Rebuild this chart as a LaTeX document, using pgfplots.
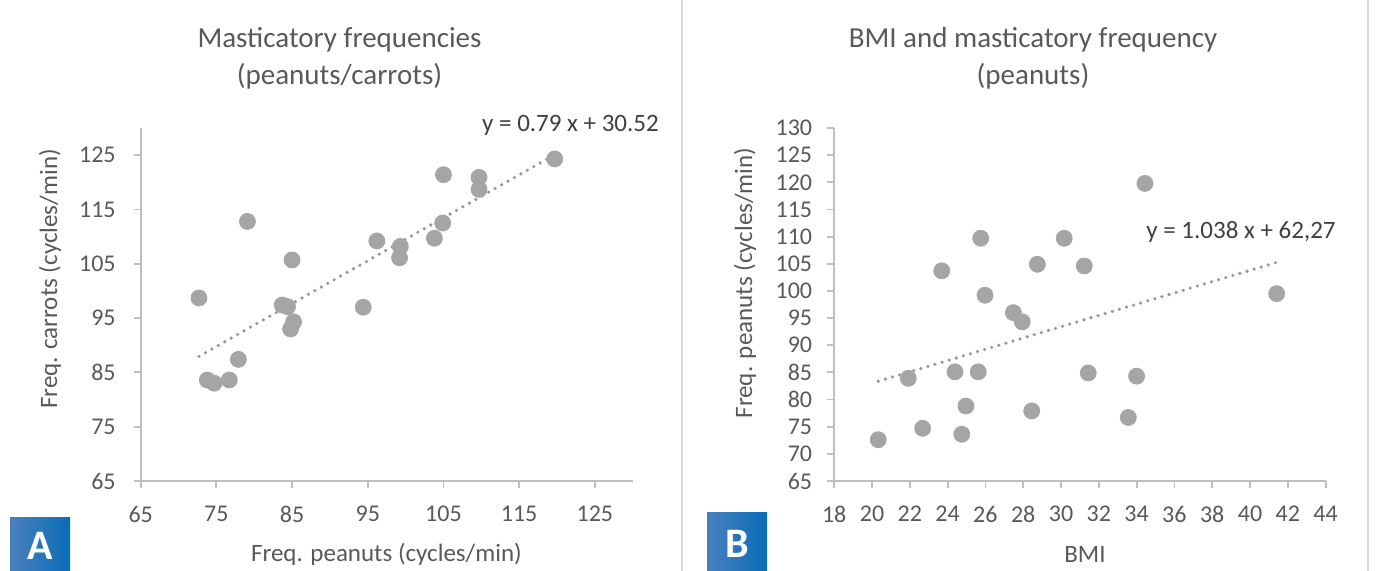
\documentclass[border=0pt]{standalone}
\usepackage{pgfplots}
\pgfplotsset{compat=1.18}
\usepackage{fontspec}
\setmainfont{Carlito}

\definecolor{txt}{HTML}{595959}
\definecolor{eqc}{HTML}{404040}
\definecolor{axc}{HTML}{BFBFBF}
\definecolor{dot}{HTML}{A5A5A5}
\definecolor{trend}{HTML}{999999}
\definecolor{frame}{HTML}{D9D9D9}
\definecolor{boxL}{HTML}{4A80BC}
\definecolor{boxR}{HTML}{0A6CB8}

\pgfplotsset{
  chart/.style={
    scale only axis,
    axis x line*=bottom, axis y line*=left,
    axis line style={axc, line width=0.9pt},
    tick style={axc, line width=0.9pt},
    tick align=outside,
    major tick length=3.5pt,
    ticklabel style={font=\fontsize{12}{14}\selectfont, text=txt},
    xticklabel style={yshift=-5.5pt},
    /pgf/number format/assume math mode=true,
    clip=false,
  },
  pts/.style={only marks, mark=*, mark size=4pt, mark options={fill=dot, draw=dot}},
  trendl/.style={no marks, trend, line width=1.8pt, line cap=round, dash pattern=on 0pt off 3.7pt},
}

% peanuts vs carrots
\pgfplotstableread{
x     y
72.7  98.7
79.1  112.8
85.0  105.7
83.7  97.4
84.4  97.1
85.2  94.3
84.8  93.0
94.4  97.0
96.2  109.2
99.3  108.2
99.2  106.1
103.8 109.7
104.9 112.5
105.0 121.4
109.7 120.9
109.7 118.7
119.7 124.3
77.9  87.4
73.8  83.6
74.7  83.0
76.7  83.6
}\carrots

% BMI vs peanuts
\pgfplotstableread{
x     y
23.69 103.7
25.75 109.7
30.17 109.7
28.75 104.9
31.23 104.6
25.98 99.2
27.48 96.0
27.95 94.3
34.44 119.8
20.33 72.6
21.92 83.9
22.68 74.7
24.39 85.1
25.62 85.1
24.97 78.8
24.75 73.6
28.45 77.9
31.44 84.9
34.00 84.3
33.56 76.7
41.41 99.5
}\bmi

\begin{document}
\begin{tikzpicture}
\useasboundingbox (0,0) rectangle (687.5pt,285.5pt);

% frame lines
\draw[frame, line width=0.8pt] (341pt,0) -- (341pt,285.5pt);
\draw[frame, line width=0.8pt] (684pt,0) -- (684pt,285.5pt);

% ---- A ----
\begin{axis}[chart,
  at={(70.35pt,45pt)}, anchor=south west,
  width=246pt, height=176.5pt,
  xmin=65, xmax=130, ymin=65, ymax=130,
  xtick={65,75,...,125}, ytick={65,75,...,125},
  yticklabel style={xshift=-5.5pt},
]
\addplot[pts] table[x=x,y=y] {\carrots};
\addplot[trendl] coordinates {(72.7,87.95) (119.7,125.08)};
\end{axis}

% ---- B ----
\begin{axis}[chart,
  at={(417.1pt,45pt)}, anchor=south west,
  width=245.7pt, height=176.5pt,
  xmin=18, xmax=44, ymin=65, ymax=130,
  xtick={18,20,...,44}, ytick={65,70,...,130},
  yticklabel style={xshift=-4pt},
]
\addplot[pts] table[x=x,y=y] {\bmi};
\addplot[trendl] coordinates {(20.33,83.37) (41.41,105.25)};
\end{axis}

% titles
\node[text=txt, align=center, font=\fontsize{14.5}{18.5}\selectfont] at (169.75pt,256.5pt)
  {Masticatory frequencies\\(peanuts/carrots)};
\node[text=txt, align=center, font=\fontsize{14.5}{18.5}\selectfont] at (516.5pt,256.5pt)
  {BMI and masticatory frequency\\(peanuts)};

% axis labels
\node[text=txt, font=\fontsize{12.5}{15}\selectfont] at (193.25pt,8.5pt) {Freq. peanuts (cycles/min)};
\node[text=txt, font=\fontsize{12.5}{15}\selectfont, rotate=90] at (25pt,146pt) {Freq. carrots (cycles/min)};
\node[text=txt, font=\fontsize{12.5}{15}\selectfont, rotate=90] at (372.5pt,144pt) {Freq. peanuts (cycles/min)};
\node[text=txt, font=\fontsize{12.5}{15}\selectfont] at (542.5pt,8.5pt) {BMI};

% equations
\node[text=eqc, font=\fontsize{12.5}{15}\selectfont] at (285.25pt,223pt) {y = 0.79 x + 30.52};
\node[text=eqc, font=\fontsize{12.5}{15}\selectfont] at (620.5pt,169.5pt) {y = 1.038 x + 62,27};

% panel letters
\shade[left color=boxL, right color=boxR] (5pt,0) rectangle (35pt,26.5pt);
\node[text=white, font=\fontsize{21}{21}\bfseries\selectfont] at (20pt,12.5pt) {A};
\shade[left color=boxL, right color=boxR] (353.5pt,0) rectangle (383.5pt,29pt);
\node[text=white, font=\fontsize{21}{21}\bfseries\selectfont] at (368.5pt,13.5pt) {B};
\end{tikzpicture}
\end{document}
